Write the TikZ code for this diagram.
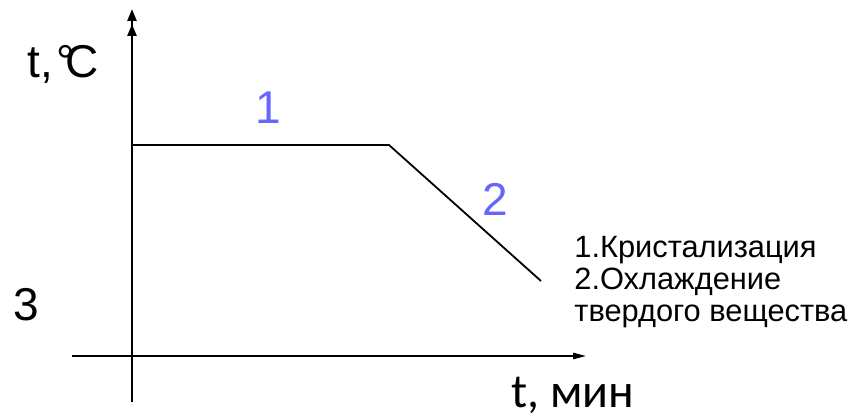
\documentclass[tikz,border=0pt]{standalone}
\usepackage{fontspec}
\setmainfont{Liberation Sans}
\newfontfamily\carlito{Carlito}
\usetikzlibrary{arrows.meta}
\definecolor{labelblue}{RGB}{102,102,255}

\begin{document}
\begin{tikzpicture}[x=0.5pt,y=-0.5pt,
  bignum/.style={font=\fontsize{23}{26}\selectfont, inner sep=0pt},
  legendtext/.style={font=\fontsize{15.4}{16}\selectfont, align=left, inner sep=0pt}]
%\draw[help lines] (0,0) grid (861,417);
\useasboundingbox (0,0) rectangle (861,417);

\coordinate (ybot) at (132,402);
\coordinate (ytop) at (132,9);
\coordinate (xleft) at (72,356);
\coordinate (xright) at (586,356);
\coordinate (A) at (132,145);
\coordinate (B) at (389,145);
\coordinate (C) at (541,281);

\draw[line width=1.2pt,
  -{Triangle[length=6pt,width=4.5pt,sep=1.5pt]Triangle[length=6pt,width=4.5pt]}]
  (ybot) -- (ytop);
\draw[line width=0.75pt, -{Triangle[length=6.5pt,width=3.2pt]}] (xleft) -- (xright);

\draw[line width=0.9pt] (A) -- (B) -- (C);

\node[bignum, anchor=base west] (yname) at (27,78) {t,\kern1.7pt°\kern-4.8pt C};
\node[bignum, text=labelblue, anchor=base] (one) at (268,123) {1};
\node[bignum, text=labelblue, anchor=base] (two) at (495,215) {2};
\node[bignum, anchor=base west] (three) at (13,320) {3};
\node[font=\carlito\fontsize{24}{26}\selectfont, anchor=base west, inner sep=0pt]
  (xname) at (511,407) {t, мин};
\node[legendtext, anchor=north west] (legend) at (574,236)
  {1.Кристализация\\2.Охлаждение\\твердого вещества};
\end{tikzpicture}
\end{document}
